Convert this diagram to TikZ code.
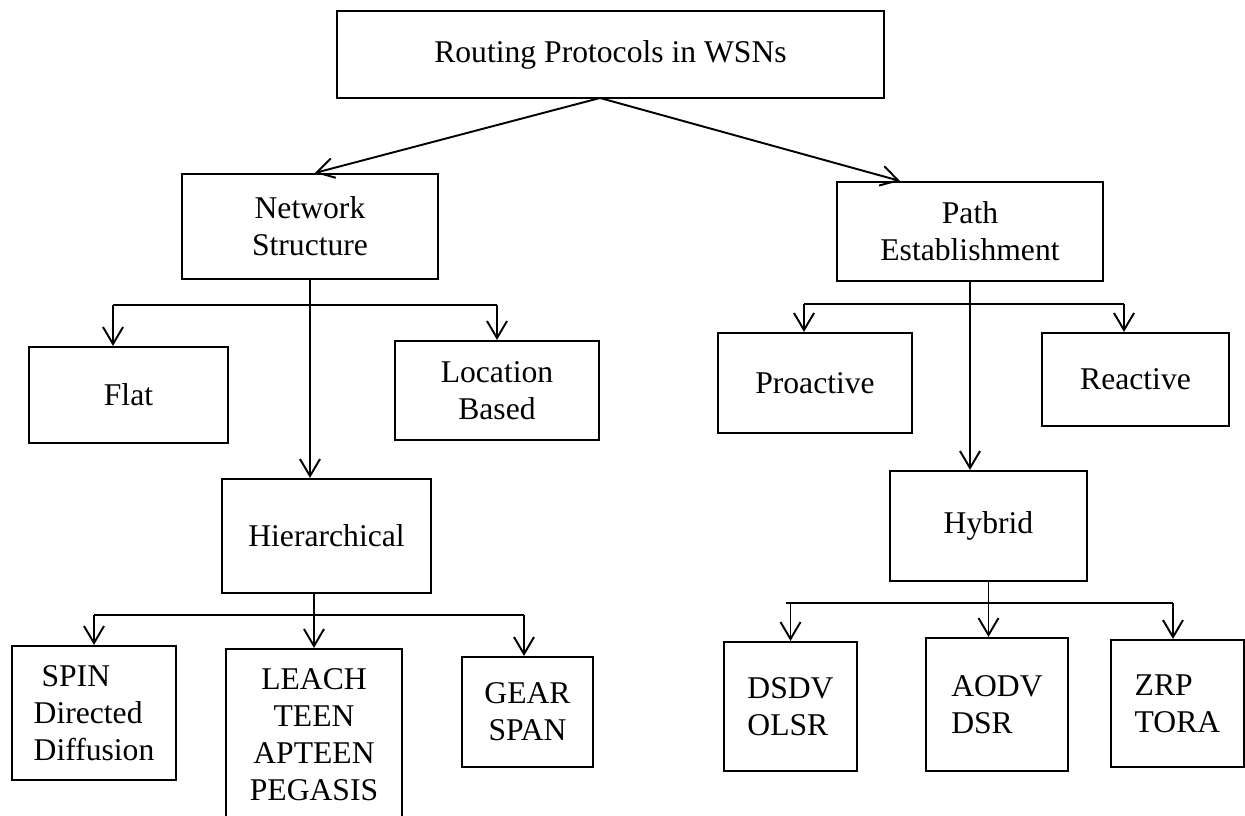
\documentclass[tikz,border=0pt]{standalone}
\usepackage{fontspec}
\setmainfont{Liberation Serif}
\usetikzlibrary{arrows.meta, calc}

\tikzset{
  box/.style={draw, line width=1.2pt, inner sep=2pt, font=\fontsize{18}{21}\selectfont},
  arr/.style={line width=1.1pt, -{Straight Barb[length=3.4mm, width=4mm, line width=1.1pt]}},
  rail/.style={line width=0.7pt},
}

\begin{document}
\begin{tikzpicture}
\useasboundingbox (0,0) rectangle (24.9,-16.32);
% Top node
\node[box, minimum width=10.94cm, minimum height=1.74cm] (rp) at (12.21,-1.09) {Routing Protocols in WSNs};
% Second level
\node[box, minimum width=5.12cm, minimum height=2.1cm, align=center] (ns) at (6.2,-4.53) {Network\\Structure};
\node[box, minimum width=5.32cm, minimum height=1.98cm, align=center] (pe) at (19.4,-4.63) {Path\\Establishment};
% Network structure classes
\node[box, minimum width=3.98cm, minimum height=1.92cm] (fl) at (2.57,-7.9) {Flat};
\node[box, minimum width=4.08cm, minimum height=1.98cm, align=center] (lb) at (9.94,-7.81) {Location\\Based};
\node[box, minimum width=4.18cm, minimum height=2.28cm] (hi) at (6.53,-10.72) {Hierarchical};
% Path establishment classes
\node[box, minimum width=3.88cm, minimum height=2.0cm] (pro) at (16.3,-7.66) {Proactive};
\node[box, minimum width=3.74cm, minimum height=1.86cm] (rea) at (22.71,-7.59) {Reactive};
\node[box, minimum width=3.94cm, minimum height=2.2cm] (hy) at (19.77,-10.52) {Hybrid};
% Protocol lists
\node[box, minimum width=3.29cm, minimum height=2.68cm, align=left] (sp) at (1.88,-14.26) {\ SPIN\\Directed\\Diffusion};
\node[box, minimum width=3.52cm, minimum height=3.44cm, align=center] (le) at (6.28,-14.7) {LEACH\\TEEN\\APTEEN\\PEGASIS};
\node[box, minimum width=2.62cm, minimum height=2.2cm, align=center] (ge) at (10.55,-14.24) {GEAR\\SPAN};
\node[box, minimum width=2.66cm, minimum height=2.58cm, align=left] (ds) at (15.81,-14.13) {DSDV\\OLSR};
\node[box, minimum width=2.84cm, minimum height=2.66cm, align=left] (ao) at (19.94,-14.09) {AODV\\DSR};
\node[box, minimum width=2.66cm, minimum height=2.54cm, align=left] (zr) at (23.55,-14.07) {ZRP\\TORA};
% Root arrows
\coordinate (rt) at (12.0,-1.96);
\draw[arr] (rt) -- ($(ns.north)+(0.1,0)$);
\draw[arr] (rt) -- ($(pe.north west)+(1.28,0)$);
% Network structure branches
\draw[arr] (ns.south) -- (ns.south |- hi.north);
\coordinate (nsl) at (2.26,-6.1);
\coordinate (nsr) at (9.94,-6.1);
\draw[rail] (nsl) -- (nsr);
\draw[arr] (nsl) -- (nsl |- fl.north);
\draw[arr] (nsr) -- (lb.north);
% Path establishment branches
\draw[arr] (pe.south) -- (pe.south |- hy.north);
\coordinate (pel) at (16.08,-6.08);
\coordinate (per) at (22.48,-6.08);
\draw[rail] (pel) -- (per);
\draw[arr] (pel) -- (pel |- pro.north);
\draw[arr] (per) -- (per |- rea.north);
% Hierarchical branches
\draw[arr] (le.north |- hi.south) -- (le.north);
\coordinate (hil) at (1.88,-12.3);
\coordinate (hir) at (10.48,-12.3);
\draw[rail] (hil) -- (hir);
\draw[arr] (hil) -- (sp.north);
\draw[arr] (hir) -- (hir |- ge.north);
% Hybrid branches
\draw[arr] (hy.south) -- (hy.south |- ao.north);
\coordinate (hyl) at (15.72,-12.06);
\coordinate (hyr) at (23.46,-12.06);
\draw[rail] (hyl) -- (hyr);
\draw[arr] (ds.north |- hyl) -- (ds.north);
\draw[arr] (hyr) -- (hyr |- zr.north);
\end{tikzpicture}
\end{document}
